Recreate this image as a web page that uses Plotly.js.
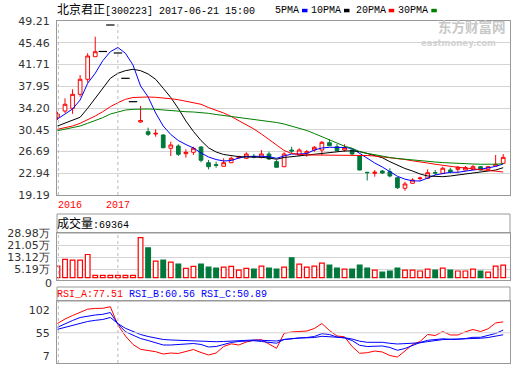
<!DOCTYPE html>
<html><head><meta charset="utf-8">
<script src="https://cdn.plot.ly/plotly-3.0.1.min.js"></script>
<style>html,body{margin:0;padding:0;background:#fff;}#chart{width:520px;height:365px;}</style>
</head><body><div id="chart"></div>
<script>
// ---------- data ----------
const stockTitle = '北京君正[300223] 2017-06-21 15:00';
const idx = [0,1,2,3,4,5,6,7,8,9,10,11,12,13,14,15,16,17,18,19,20,21,22,23,24,25,26,27,28,29,30,31,32,33,34,35,36,37,38,39,40,41,42,43,44,45,46,47,48,49,50,51,52,53,54,55,56,57,58,59];
const openP  = [32.65,33.68,34.15,36.56,39.15,43.05,43.95,48.52,43.69,39.32,35.29,31.78,30.11,29.71,29.54,27.25,27.64,26.32,26.56,27.47,24.76,24.42,24.14,24.76,25.63,25.52,25.87,25.69,26.26,24.94,24.07,26.95,26.09,26.43,26.95,26.95,28.21,27.52,26.95,26.95,25.97,23.11,22.93,23.33,23.21,22.17,20.35,21.21,22.02,22.07,23.07,22.93,23.50,23.62,23.50,23.62,24.07,23.62,24.19,24.66];
const highP  = [33.56,35.87,37.43,39.89,43.64,46.50,43.95,48.52,43.69,39.32,35.29,34.55,30.80,30.53,29.71,28.39,27.94,27.07,27.52,27.64,25.23,24.94,25.52,25.80,25.97,26.56,26.26,26.95,26.66,25.23,26.56,27.52,27.25,26.95,27.64,28.50,28.80,27.99,27.94,27.25,26.09,23.11,23.50,23.50,23.80,22.29,21.48,22.07,22.35,23.62,23.50,24.07,23.90,24.19,24.19,24.36,24.19,24.19,26.09,26.26];
const lowP   = [32.13,33.34,33.20,36.15,38.57,43.05,43.95,48.52,43.69,39.32,35.29,31.70,29.37,29.25,27.25,25.92,25.92,25.63,26.09,24.83,23.62,23.90,24.10,24.70,25.40,25.45,25.52,25.52,25.23,23.95,24.00,26.39,25.97,25.80,26.66,26.09,27.64,26.80,26.66,26.09,23.45,21.69,22.35,22.80,22.24,20.23,19.93,21.15,21.66,22.00,22.64,22.90,22.93,23.04,23.42,23.50,23.45,23.50,24.19,24.60];
const closeP = [33.16,34.84,36.56,39.15,43.17,43.91,43.95,48.52,43.69,39.32,35.29,32.04,29.66,29.83,27.35,27.82,26.21,26.56,27.25,25.18,24.07,24.31,24.76,25.52,25.80,26.26,25.75,26.26,25.40,23.97,26.26,26.78,26.95,26.66,27.42,28.28,27.69,26.83,27.35,26.26,23.50,23.05,23.11,22.98,22.47,20.45,21.09,21.78,22.12,23.04,22.98,23.80,23.21,23.97,23.90,24.07,23.50,24.07,24.48,25.69];
const ma5  = [32.30,33.16,34.03,35.58,38.46,40.19,42.36,43.91,44.64,43.64,41.62,38.00,36.10,33.34,31.09,29.63,28.59,27.90,27.30,26.44,25.75,25.31,25.06,25.14,25.57,25.83,25.88,25.87,25.80,25.52,25.92,26.26,26.26,26.35,26.95,27.30,27.42,27.47,27.39,27.21,26.35,25.43,24.71,24.02,23.21,22.42,21.92,21.64,21.60,22.07,22.64,22.88,23.11,23.11,23.36,23.50,23.64,23.85,24.12,24.54];
const ma10 = [31.09,31.56,32.01,32.60,34.15,35.87,37.70,39.32,40.19,40.64,40.88,40.64,40.07,39.15,37.60,36.01,34.11,31.96,30.15,28.59,27.33,26.61,26.18,25.95,25.81,25.75,25.75,25.69,25.57,25.36,25.66,25.80,25.97,26.09,26.23,26.44,26.57,26.66,26.78,26.81,26.66,26.35,26.00,25.62,24.94,24.36,23.76,23.33,22.81,22.47,22.35,22.35,22.47,22.64,22.93,23.11,23.21,23.33,23.50,23.90];
const ma20 = [30.53,30.80,31.09,31.56,32.13,32.82,33.56,34.42,35.11,35.70,36.01,36.10,36.10,36.04,35.98,35.80,35.63,35.41,35.15,34.84,34.28,33.85,33.34,32.73,32.04,31.30,30.58,29.71,28.76,27.73,26.87,26.35,26.18,26.09,26.09,26.09,26.09,26.09,26.09,26.09,26.09,26.00,25.92,25.80,25.66,25.49,25.31,25.09,24.94,24.71,24.49,24.28,24.11,23.97,23.85,23.67,23.54,23.42,23.30,23.16];
const ma30 = [30.28,30.53,30.87,31.09,31.56,32.01,32.53,33.16,33.56,33.85,33.97,34.03,34.03,33.97,33.85,33.72,33.63,33.56,33.51,33.42,33.28,33.08,32.91,32.73,32.56,32.39,32.25,32.13,31.96,31.70,31.44,31.09,30.75,30.32,29.80,29.23,28.63,28.07,27.61,27.25,26.69,26.38,26.12,25.87,25.66,25.49,25.35,25.23,25.11,25.00,24.88,24.78,24.69,24.64,24.59,24.54,24.50,24.48,24.50,24.59];
const volumeWan = [7.5,11.8,11.4,11.4,15.0,1.5,1.5,1.5,1.5,1.5,1.5,26.0,19.3,10.7,11.4,10.1,8.8,6.0,7.3,8.8,6.8,6.2,6.8,7.3,4.9,6.0,5.5,7.5,6.2,5.5,6.8,12.8,8.8,6.8,7.5,9.4,8.1,6.2,5.5,5.5,8.1,6.2,4.9,3.6,4.3,6.2,4.9,4.9,4.3,5.5,4.9,6.2,4.9,4.3,4.3,5.5,4.3,3.6,7.5,8.1];
const lastVolume = 69364;
const rsiA = [74.1,83.4,90.6,97.9,103.7,105.3,105.5,108.8,71.0,48.3,30.8,20.8,18.8,15.9,11.1,13.2,12.2,15.9,20.4,14.2,9.1,13.2,26.6,32.2,29.7,35.9,39.6,40.7,31.2,22.9,53.9,56.6,57.6,58.6,63.8,74.1,59.7,48.3,46.7,26.6,12.6,13.8,17.3,15.3,8.0,4.9,17.3,30.8,37.0,51.4,49.3,57.6,50.4,50.4,57.0,61.7,57.6,63.2,75.2,77.51];
const rsiB = [66.3,74.1,80.3,86.5,89.6,91.7,93.1,96.8,73.1,57.2,50.0,43.1,39.0,34.3,29.7,29.7,30.8,31.8,32.8,30.8,25.6,26.6,30.8,34.9,37.0,38.0,38.6,37.0,34.5,33.4,41.1,43.1,44.2,45.2,47.3,53.1,51.4,46.2,44.2,39.0,29.1,26.6,27.7,27.7,24.6,18.8,22.5,28.7,34.9,39.4,41.1,42.5,41.5,41.5,43.1,45.6,45.6,48.9,53.5,60.56];
const rsiC = [62.1,66.3,70.0,75.2,78.3,80.7,82.4,86.5,74.1,64.2,57.6,51.4,47.3,44.2,41.1,40.1,39.4,38.6,38.0,37.4,36.5,36.5,37.0,38.0,38.4,39.4,40.1,39.4,38.6,38.0,41.1,43.1,44.2,44.6,45.2,47.7,46.7,45.6,44.8,42.1,37.6,35.3,35.3,35.3,33.2,31.8,32.6,33.2,34.3,36.7,39.0,40.9,41.5,41.7,42.1,42.5,43.6,45.2,47.3,50.89];
const yearLabels = ['2016','2017'];
const yearStartIdx = [0, 8];
const priceTicks = [19.19,22.94,26.69,30.45,34.20,37.95,41.71,45.46,49.21];
const volumeTicks = [0,5.19,13.12,21.05,28.98];
const rsiTicks = [7,55,102];
const maNames = ['5PMA','10PMA','20PMA','30PMA'];

// ---------- style ----------
const RED='#ff0000', GREEN='#00783c', BLUE='#0000ff';
const maColors = [BLUE,'#000000',RED,'#008000'];
const FRAME='#999999', GRID='#d4d4d4';
const W=520,H=365;
const X = px => px/W, Y = py => 1-py/H;
const mono = 'Liberation Mono, Noto Sans CJK SC, monospace';
const cjk = s => s.replace(/([\u4e00-\u9fff]+)/g,'<span style="font-size:12px">$1</span>');
const f2 = v=>v.toFixed(2);

const isFlat = i => openP[i]===highP[i] && openP[i]===lowP[i] && openP[i]===closeP[i];
const cIdx = idx.filter(i=>!isFlat(i));
const fIdx = idx.filter(i=>isFlat(i));
const up = idx.map(i=>closeP[i]>=openP[i]);

const traces = [];
traces.push({type:'candlestick', x:cIdx, open:cIdx.map(i=>openP[i]), high:cIdx.map(i=>highP[i]),
  low:cIdx.map(i=>lowP[i]), close:cIdx.map(i=>closeP[i]), xaxis:'x', yaxis:'y',
  whiskerwidth:0, line:{width:1},
  increasing:{line:{color:RED,width:1}, fillcolor:'#ffffff'},
  decreasing:{line:{color:GREEN,width:1}, fillcolor:GREEN}, hoverinfo:'skip'});
traces.push({type:'scatter', mode:'markers', x:fIdx, y:fIdx.map(i=>closeP[i]), xaxis:'x', yaxis:'y',
  marker:{symbol:'line-ew', size:6, line:{color:'#000', width:1.2}}, hoverinfo:'skip'});
[ma5,ma10,ma20,ma30].forEach((m,k)=>traces.push({type:'scatter',mode:'lines',x:idx,y:m,xaxis:'x',yaxis:'y',
  line:{color:maColors[k],width:1}, hoverinfo:'skip'}));
traces.push({type:'bar', x:idx, y:volumeWan, xaxis:'x2', yaxis:'y2', width:0.62,
  marker:{color:up.map(u=>u?'#ffffff':GREEN), line:{color:up.map(u=>u?RED:GREEN), width:1.2}}, hoverinfo:'skip'});
[[rsiA,RED],[rsiB,BLUE],[rsiC,BLUE]].forEach(([r,c])=>traces.push({type:'scatter',mode:'lines',x:idx,y:r,
  xaxis:'x3',yaxis:'y3',line:{color:c,width:1},hoverinfo:'skip'}));

const xBase = {range:[-0.06,59.9], showticklabels:false, showgrid:false, zeroline:false,
  showline:true, mirror:true, linecolor:FRAME, linewidth:1, ticks:'', fixedrange:true,
  domain:[X(57),X(510)]};
const tickFont = {family:'DejaVu Sans', size:11, color:'#333'};
const yBase = {showline:true, mirror:true, linecolor:FRAME, linewidth:1, zeroline:false, ticks:'',
  tickmode:'array', ticklabelstandoff:4, gridcolor:GRID, gridwidth:1, fixedrange:true, tickfont:tickFont};

const shapes = [];
shapes.push({type:'rect',xref:'paper',yref:'paper',x0:X(57),x1:X(510),y0:Y(233),y1:Y(214),line:{color:FRAME,width:1}});
shapes.push({type:'rect',xref:'paper',yref:'paper',x0:X(57),x1:X(510),y0:Y(301),y1:Y(287),line:{color:FRAME,width:1}});
shapes.push({type:'line',xref:'x3',yref:'y3',x0:-0.06,x1:59.9,y0:rsiTicks[1],y1:rsiTicks[1],line:{color:GRID,width:1}});
yearStartIdx.forEach(i=>{
  const xi = Math.max(i,0.12);
  ['y','y2','y3'].forEach(ax=>shapes.push({type:'line',xref:'x',yref:ax+' domain',x0:xi,x1:xi,y0:0,y1:1,
    line:{color:'#bbbbbb',width:1,dash:'3px,3px'}}));
});
const legendX=[275,311,355.7,398.3];
maNames.forEach((n,k)=>{
  const sx = legendX[k]+n.length*6+3;
  shapes.push({type:'rect',xref:'paper',yref:'paper',x0:X(sx),x1:X(sx+5.5),y0:Y(12.3),y1:Y(8.8),
    fillcolor:maColors[k],line:{width:0}});
});

const ann = [];
const A = (x,y,text,opts={}) => ann.push(Object.assign({xref:'paper',yref:'paper',x:X(x),y:Y(y),text,
  showarrow:false,xanchor:'left',yanchor:'middle',borderpad:0,font:{family:mono,size:10,color:'#000'}},opts));
A(56,10,cjk(stockTitle));
maNames.forEach((n,k)=>A(legendX[k]-1,10,n));
A(56,223.5,cjk('成交量:'+lastVolume));
A(56,294,`<span style="color:${RED}">RSI_A:${f2(rsiA[rsiA.length-1])}</span> <span style="color:${BLUE}">RSI_B:${f2(rsiB[rsiB.length-1])}</span> <span style="color:${BLUE}">RSI_C:${f2(rsiC[rsiC.length-1])}</span>`);
yearLabels.forEach((t,k)=>ann.push({xref:'x',yref:'paper',x:yearStartIdx[k],y:Y(205.5),text:t,showarrow:false,
  xanchor:k===0?'left':'center',yanchor:'middle',borderpad:0,font:{family:mono,size:10,color:RED}}));
// bottom label of the volume scale sits on the panel's lower edge
A(53,276.3,String(volumeTicks[0]),{xanchor:'right',yanchor:'top',font:tickFont});
// watermark
A(437,37,'<b>东方财富网</b>',{yanchor:'bottom',font:{family:'Noto Sans CJK SC',size:13.5,color:'#c8c8c8'}});
A(420,37.5,'<b>eastmoney.com</b>',{yanchor:'top',font:{family:'DejaVu Sans',size:8.5,color:'#d2d2d2'}});

const layout = {
  width:W,height:H,margin:{l:0,r:0,t:0,b:0},paper_bgcolor:'#fff',plot_bgcolor:'#fff',showlegend:false,
  font:{family:'DejaVu Sans',size:11,color:'#333'}, boxgap:0.3,
  xaxis:Object.assign({},xBase,{anchor:'y',rangeslider:{visible:false}}),
  xaxis2:Object.assign({},xBase,{anchor:'y2',matches:'x'}),
  xaxis3:Object.assign({},xBase,{anchor:'y3',matches:'x'}),
  yaxis:Object.assign({},yBase,{domain:[Y(195),Y(21)],range:[19.19,49.21],tickvals:priceTicks,
    ticktext:priceTicks.map(f2),showgrid:true,anchor:'x'}),
  yaxis2:Object.assign({},yBase,{domain:[Y(280),Y(233)],range:[-1.56,28.98],tickvals:volumeTicks,
    ticktext:volumeTicks.map(v=>v===0?'':f2(v)+'万'),showgrid:true,anchor:'x2'}),
  yaxis3:Object.assign({},yBase,{domain:[Y(363),Y(301)],range:[-7.46,120.6],tickvals:rsiTicks,
    ticktext:rsiTicks.map(String),showgrid:false,anchor:'x3'}),
  shapes, annotations:ann
};
Plotly.newPlot('chart',traces,layout,{staticPlot:true,displayModeBar:false});
</script></body></html>
